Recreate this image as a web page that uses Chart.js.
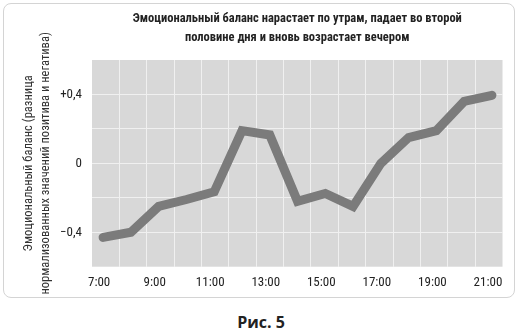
<!DOCTYPE html>
<html>
<head>
<meta charset="utf-8">
<script src="https://cdn.jsdelivr.net/npm/chart.js@4/dist/chart.umd.min.js"></script>
<style>
  html, body { margin: 0; padding: 0; background: #ffffff; }
  body { width: 522px; height: 334px; position: relative; overflow: hidden; }
  #frame { position: absolute; left: 3px; top: 3px; width: 510px; height: 293px; border: 1px solid #d4d4d4; border-radius: 8px; }
  #wrap { position: absolute; left: 0; top: 0; width: 522px; height: 300px; }
  #caption { position: absolute; left: 0; top: 311px; width: 522px; text-align: center; font-family: "Open Sans", "DejaVu Sans", sans-serif; font-weight: bold; font-size: 16px; color: #222; }
</style>
</head>
<body>
<div id="frame"></div>
<div id="wrap"><canvas id="c" width="522" height="300"></canvas></div>
<div id="caption">Рис. 5</div>
<script>
const titleLines = ["Эмоциональный баланс нарастает по утрам, падает во второй", "половине дня и вновь возрастает вечером"];
const yTitleLines = ["Эмоциональный баланс (разница", "нормализованных значений позитива и негатива)"];
const hours = [7, 8, 9, 10, 11, 12, 13, 14, 15, 16, 17, 18, 19, 20, 21];
const balance = [-0.43, -0.40, -0.25, -0.21, -0.165, 0.19, 0.165, -0.22, -0.175, -0.25, 0.0, 0.15, 0.19, 0.36, 0.395];
const xTickHours = [7, 9, 11, 13, 15, 17, 19, 21];
const xTickLabels = ["7:00", "9:00", "11:00", "13:00", "15:00", "17:00", "19:00", "21:00"];
const yTickValues = [-0.4, -0.2, 0, 0.2, 0.4];
const yTickLabels = ["\u22120,4", "", "0", "", "+0,4"];

const FONT = "'Roboto Condensed', 'Open Sans Condensed', 'DejaVu Sans Condensed', sans-serif";
const X_MIN = 6.6, X_MAX = 21.38, GRID_COLS = 15;

const plotBg = {
  id: 'plotBg',
  beforeDraw(chart) {
    const {ctx, chartArea: a} = chart;
    ctx.save();
    ctx.fillStyle = '#d8d8d8';
    ctx.fillRect(a.left, a.top, a.right - a.left, a.bottom - a.top);
    ctx.restore();
  }
};

new Chart(document.getElementById('c'), {
  type: 'line',
  data: {
    datasets: [{
      data: hours.map((h, i) => ({x: h, y: balance[i]})),
      borderColor: '#7b7b7b',
      borderWidth: 9,
      pointRadius: 0,
      tension: 0,
      borderCapStyle: 'round',
      borderJoinStyle: 'miter',
      fill: false
    }]
  },
  options: {
    responsive: false,
    animation: false,
    layout: { padding: { left: 0, right: 19.5, top: 0, bottom: 0 } },
    plugins: {
      legend: { display: false },
      tooltip: { enabled: false },
      title: {
        display: true,
        fullSize: false,
        text: titleLines,
        color: '#222222',
        font: { family: FONT, size: 12.5, weight: 'bold', lineHeight: '18.7px' },
        padding: { top: 10, bottom: 12.6 }
      }
    },
    scales: {
      x: {
        type: 'linear',
        position: 'bottom',
        min: X_MIN, max: X_MAX,
        afterBuildTicks(scale) {
          scale.ticks = xTickHours.map(v => ({value: v}));
        },
        afterFit(scale) { scale.height = 33.3; },
        grid: { display: false, drawTicks: false },
        border: { display: false },
        ticks: {
          autoSkip: false,
          maxRotation: 0,
          padding: 8,
          labelOffset: -4,
          color: '#222222',
          font: { family: FONT, size: 13 },
          callback(v) { const i = xTickHours.indexOf(v); return i >= 0 ? xTickLabels[i] : ''; }
        }
      },
      xGrid: {
        type: 'linear',
        position: 'bottom',
        min: X_MIN, max: X_MAX,
        afterBuildTicks(scale) {
          const t = [];
          for (let k = 1; k < GRID_COLS; k++) t.push({value: X_MIN + k * (X_MAX - X_MIN) / GRID_COLS});
          scale.ticks = t;
        },
        afterFit(scale) { scale.height = 0; },
        grid: { display: true, color: '#f0f0f0', lineWidth: 1, drawTicks: false },
        border: { display: false },
        ticks: { display: false }
      },
      y: {
        type: 'linear',
        min: -0.6, max: 0.6,
        afterBuildTicks(scale) {
          scale.ticks = yTickValues.map(v => ({value: v}));
        },
        afterFit(scale) { scale.width = 92; },
        grid: { color: '#f0f0f0', lineWidth: 1, drawTicks: false },
        border: { display: false },
        ticks: {
          padding: 10,
          color: '#222222',
          font: { family: FONT, size: 13 },
          callback(v) {
            const i = yTickValues.findIndex(t => Math.abs(t - v) < 1e-9);
            return i >= 0 ? yTickLabels[i] : '';
          }
        },
        title: {
          display: true,
          text: yTitleLines,
          color: '#333333',
          font: { family: FONT, size: 12.5, lineHeight: '17px' },
          padding: { top: 20, bottom: 0 }
        }
      }
    }
  },
  plugins: [plotBg]
});
</script>
</body>
</html>
